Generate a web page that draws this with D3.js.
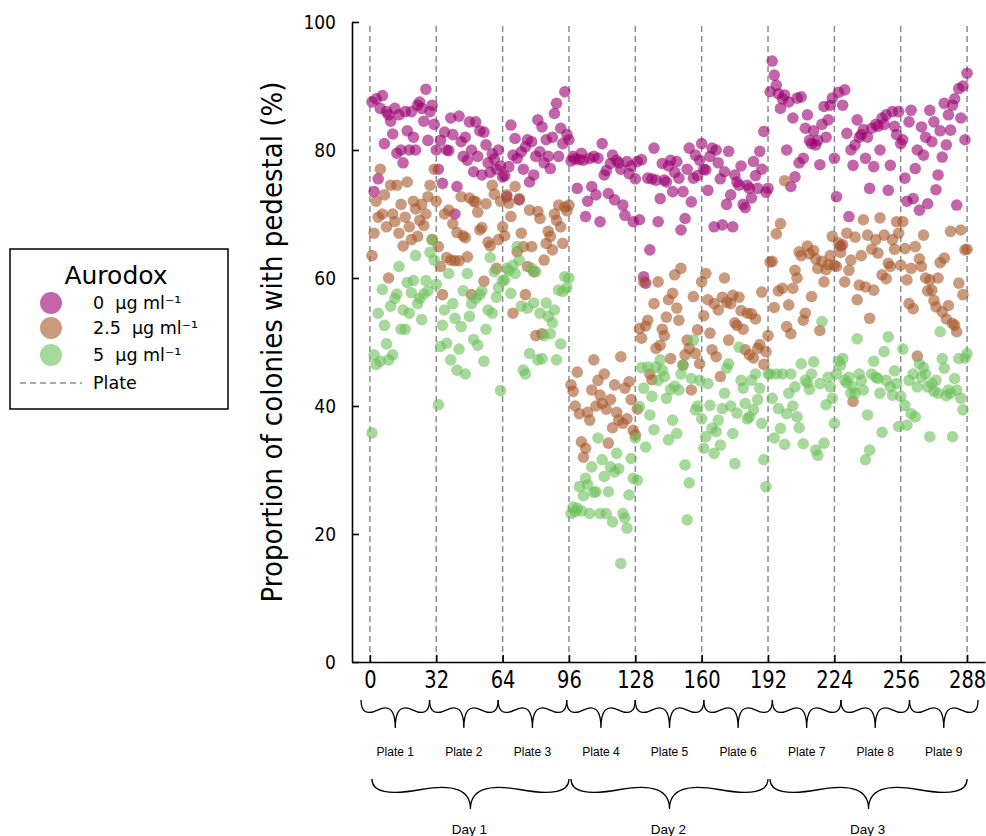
<!DOCTYPE html>
<html>
<head>
<meta charset="utf-8">
<script src="https://cdn.jsdelivr.net/npm/d3@7"></script>
<style>
  body { margin: 0; background: #fff; }
  svg { display: block; }
  text { font-family: "DejaVu Sans", sans-serif; fill: #000; }
  .note { font-family: "Liberation Sans", Arial, sans-serif; }
</style>
</head>
<body>
<div id="chart-container"></div>
<script>
// proportion of colonies with pedestal (%), one row of 32 wells per plate
const aurodox0 = [
  [87.5,73.5,88,75.5,86.5,88.5,81,86,85.5,84.5,82.5,86.5,79.5,85.5,80,78,86,83,80,86,82,80,87,87.5,86.5,84.5,89.5,81.5,86,87,84,80],
  [77,81.5,74.8,82.8,80,79.9,85,82.4,70,74.3,85.3,81.3,79,82,78.4,84.4,80,76.6,84.4,79,83,76.1,82.8,80.8,78,76.5,79.4,78.6,77,80,77.5,75.8],
  [76,72.7,77.4,83.9,79.2,81.8,78.7,72.2,79.7,77,80.5,81.6,75,81.3,76.1,79,84.7,79.7,83.6,78,81.6,79,77.1,82,85.7,87.3,79,83.4,81,89.1,82.4,81.6],
  [78.3,79,78.6,74,78.5,79.5,78.4,69.6,72,78.7,74.3,79,73,78.7,68.8,81,76.1,76.8,73.2,77.9,79.2,72.2,78.4,78,77,71.4,69.8,78.2,76.3,77.5,68.8,75.5],
  [78.2,69.1,78.5,60.2,59.2,75.6,64.4,75.5,80.3,75.3,68.8,72.4,77.9,75.3,75,77.5,78.4,73.5,76.5,78.2,75.6,67.5,73.5,69.3,77,80.3,71.9,75.6,79.2,76,78.4,81],
  [77,76.9,73.7,79,80.3,68,80,78,75.5,68.3,76.6,71.5,79.8,73,68,76.1,75,74.5,77.5,71.5,71,74.5,74,72.5,78.2,76,74,79.8,77,82.9,73.4,74],
  [89.1,93.9,91.7,90.1,88.8,86.5,88,88.6,80,87.5,74.3,85,75.8,88.1,78,88.3,78.7,83.4,85.5,81.5,81,83,80.8,81.5,77.7,84,86.8,82,84.7,87,88.1,78.7],
  [72.7,89,65,87,89.4,82.6,69.6,80,77.6,80.8,84.7,82,82.4,83.2,78.7,82,74,83.4,77.4,84,83.7,80,85,84,85.5,73.7,77.6,86,83.7,82.4,86,81],
  [81.6,75.6,72,84.4,86.2,72.4,77.1,80,70.6,83.6,79.2,82,71.6,86.2,81.3,84.4,73.8,76.1,83,78.9,87.3,80.8,85.5,83.1,87,88,71.4,89.6,85,90,81.6,92]
];
const aurodox25 = [
  [63.5,67,72,69.5,77,70,73,68,60,74.5,70,68.8,74.5,67,71.5,65,69.5,75,68,66,72,70.8,66.5,69,71.5,68.2,70,72.7,74.5,66,77,72],
  [64.9,61.8,57.4,70,63.2,70.6,62.8,68.5,62.7,67.1,62.7,72.7,66.6,66.3,63.3,72.5,57.4,72,71.9,70.3,67.5,67.9,59.5,71.6,65.6,65,74.5,73.1,61.5,66,72,68],
  [66.6,73,71.7,69.6,54.5,74.3,64.1,72.4,67,64.9,57.4,61.8,70.6,64.9,61,51,70.4,69.3,51.3,62.8,65.4,67.3,66.5,64.4,70,69,71.4,68,65.4,71.1,70.5,71.4],
  [43.3,42.3,40,45.3,38.8,34.4,32,33.4,39,37.8,42.5,47.2,40,44,41.7,40.4,45,39.5,34.2,41,36.6,43.3,39,37.8,47.7,37.3,42.8,38,43.8,41,36.2,35.5],
  [39.5,52.1,50.6,59.4,52.5,53.4,45,44.1,56,49,59.4,49.5,52,51,53.9,56.6,47.4,57.6,60.5,55.3,53.4,61.5,46.4,48,50.3,49,42.5,57.1,48.2,51.9,46.6,59.4],
  [54.1,60.7,56.6,51.4,48.8,56,47.7,55,44.6,57,60,56.2,50.3,56,57.3,53,52.6,57,54.9,52,48.8,54.5,48,54.4,47.5,53.6,49,49.6,57.8,46.5,48.5,51],
  [62.5,62.6,55.4,66.9,58,68.5,58.4,75.2,52.4,55.8,51.3,58.4,61.2,60,64.1,63.5,53.4,54.5,65,63.8,57.1,64.3,63,61.5,51.8,62.6,59.4,61.3,62.1,63.5,66.5,62],
  [61.8,65.5,64,65.2,59.4,67,61.2,62.8,40.7,66.4,56.6,58.9,63.5,69.1,58.6,66.7,53.7,64.5,58.1,66,63.9,69.4,60.5,66.7,59.9,62.3,61.8,66,64.5,68.8,67,62],
  [68.8,64.6,59.7,56,61.5,55.2,64.9,47.8,63,61.8,66.7,60,58,59.7,58.1,56.5,55.5,60,62.4,54.7,63.1,53.6,55.7,67.3,52.9,52.6,51.6,59.2,67.5,57.4,64.4,64.5]
];
const aurodox5 = [
  [35.8,48,46.5,54.5,47,58.2,52.6,49.7,47.2,55.6,48,56.8,57.5,61.8,52,55,52,59.3,54.5,57.7,59.6,63.5,56,56.8,53.5,57.5,59.6,58,64,66,62.8,59],
  [40.2,49.3,52.6,55,49.8,60.7,47.2,56,53.7,45.6,48.9,52.4,58,45,60.7,54,56,50.4,56.8,49.5,57.4,58,47,52,55,63.2,54.5,61,57,58.5,42.4,59.6],
  [59.7,61.5,61.2,57.6,62,60.7,64.9,62.8,55.6,45.6,45,55.3,48.2,61.5,56.1,61,47.2,54.5,47.4,51,56.1,54,51.3,53,55,47.2,58.1,49.7,57.9,60.2,58.5,60],
  [23.2,24.2,23.5,24,27.4,23.6,26,28.7,27.7,23.2,30.5,26.5,26.6,35,23.2,31.6,29,23.2,26.6,30.5,21.9,29.7,32.6,30.2,15.4,23.2,22.5,20.9,26.1,31.8,28.7,35],
  [28.4,39.9,46,42.8,33.6,46.1,38.6,41.5,36.3,46.1,44,47.2,45.6,44.6,41.2,34.7,42.6,37.8,43.1,35.7,42.5,45,46.4,30.8,22.2,28,44.3,50.3,39.4,40,44,38],
  [33.4,35.2,43.5,40.1,36.5,32.6,36,37.8,33.9,39.6,42,45.9,46.6,40,35.7,31,38.9,49.2,44,42.8,40.4,38,38.3,44,39.4,45,41,42.8,37.3,31.6,27.4,45],
  [45,41.2,35,45,39.6,36.5,45,34,38.8,42,45,40,43,38.3,36.6,46.6,34.1,44,43.6,42.6,45,46.9,33.1,32.3,43.5,53.2,34.2,40.2,44.5,43,41.2,37.3],
  [45,47,46.4,47.4,44,43.6,44.5,42,43,42,50.5,45,44,42.5,31.6,38.6,33.1,45,47,44.5,44.3,42,35.9,48.5,44,50.8,43,41.7,45.5,43.5,36.8,41.5],
  [48.9,40.1,37,44,38.8,45,38.3,43,46.6,44.5,46,45,43,35.2,43.5,42.3,44,42,51.6,47.4,45.9,41.6,42.5,42,35.2,44.3,42.5,47.4,41.2,39.4,47.5,48.2]
];

const wellsPerPlate = 32;
const xTicks = [0, 32, 64, 96, 128, 160, 192, 224, 256, 288];
const yTicks = [0, 20, 40, 60, 80, 100];
const plateLabels = ["Plate 1", "Plate 2", "Plate 3", "Plate 4", "Plate 5", "Plate 6", "Plate 7", "Plate 8", "Plate 9"];
const dayLabels = ["Day 1", "Day 2", "Day 3"];
const seriesLabels = ["0  \u03bcg ml\u207b\u00b9", "2.5  \u03bcg ml\u207b\u00b9", "5  \u03bcg ml\u207b\u00b9"];
const seriesColors = ["#99006f", "#a65628", "#6dbf5a"];

const width = 986, height = 836;
const svg = d3.select("#chart-container").append("svg").attr("width", width).attr("height", height);

const x = d3.scaleLinear().domain([-8.64, 296.64]).range([352, 985]);
const y = d3.scaleLinear().domain([0, 100]).range([662, 22]);

// plate separators
svg.append("g").selectAll("line").data(xTicks).enter().append("line").
attr("x1", d => x(d)).attr("x2", d => x(d)).
attr("y1", y(0)).attr("y2", y(100)).
attr("stroke", "#8c8c8c").attr("stroke-width", 1.5).attr("stroke-dasharray", "6,4");

// points, one series after another
function toPoints(rows) {
  let pts = [];
  rows.forEach((row, p) => row.forEach((v, j) => pts.push([p * wellsPerPlate + j + 1, v])));
  return pts;
}
[aurodox0, aurodox25, aurodox5].forEach((rows, i) => {
  svg.append("g").selectAll("circle").data(toPoints(rows)).enter().append("circle").
  attr("cx", d => x(d[0])).attr("cy", d => y(d[1])).attr("r", 5.8).
  attr("fill", seriesColors[i]).attr("fill-opacity", 0.6);
});

// axes; tick labels are squeezed sideways like the original figure
function squeeze(g, size, sx) {
  g.selectAll("text").each(function () {
    let t = d3.select(this);
    let tx = +t.attr("x") || 0;
    t.attr("x", 0).attr("font-family", "DejaVu Sans").attr("font-size", size).
    attr("transform", `translate(${tx},0) scale(${sx},1)`);
  });
}
const yAxis = svg.append("g").attr("transform", `translate(${x.range()[0]},0)`).
call(d3.axisLeft(y).tickValues(yTicks).tickSizeInner(-7).tickSizeOuter(0).tickPadding(16));
const xAxis = svg.append("g").attr("transform", `translate(0,${y(0)})`).
call(d3.axisBottom(x).tickValues(xTicks).tickSizeInner(-7).tickSizeOuter(0).tickPadding(8));
[yAxis, xAxis].forEach(g => g.selectAll("path, line").attr("stroke", "#000").attr("stroke-width", 1.6));
squeeze(yAxis, 19, 0.9);
squeeze(xAxis, 25, 0.78);

svg.append("text").text("Proportion of colonies with pedestal (%)").
attr("text-anchor", "middle").attr("font-size", 29).
attr("transform", `translate(282,${y(50)}) rotate(-90) scale(0.9,1)`);

// curly brace between two x positions, tip pointing down
function brace(x1, x2, yTop, w, q) {
  const len = x2 - x1, mid = x1 + len / 2;
  return `M${x1},${yTop} Q${x1},${yTop + q * w} ${x1 + 0.25 * len},${yTop + (1 - q) * w} T${mid},${yTop + w}` +
  ` M${x2},${yTop} Q${x2},${yTop + q * w} ${x2 - 0.25 * len},${yTop + (1 - q) * w} T${mid},${yTop + w}`;
}

// plate braces sit a little off the tick grid in the original
const braceFrom = -4.3, braceTo = 293.3;
const step = (braceTo - braceFrom) / plateLabels.length;
const plates = plateLabels.map((label, i) => ({ label, start: braceFrom + i * step, end: braceFrom + (i + 1) * step }));
svg.append("g").selectAll("path").data(plates).enter().append("path").
attr("d", d => brace(x(d.start), x(d.end), 700, 28, 0.65)).
attr("fill", "none").attr("stroke", "#000").attr("stroke-width", 1.3);
svg.append("g").selectAll("text").data(plates).enter().append("text").
attr("class", "note").attr("font-size", 12).attr("text-anchor", "middle").
attr("x", d => x((d.start + d.end) / 2)).attr("y", 756).text(d => d.label);

const days = dayLabels.map((label, i) => ({ label, start: i * 3 * wellsPerPlate, end: (i + 1) * 3 * wellsPerPlate }));
svg.append("g").selectAll("path").data(days).enter().append("path").
attr("d", d => brace(x(d.start) + 2, x(d.end), 779, 30, 0.65)).
attr("fill", "none").attr("stroke", "#000").attr("stroke-width", 1.3);
svg.append("g").selectAll("text").data(days).enter().append("text").
attr("class", "note").attr("font-size", 13.5).attr("text-anchor", "middle").
attr("x", d => x((d.start + d.end) / 2)).attr("y", 834).text(d => d.label);

// legend
const legend = svg.append("g");
legend.append("rect").attr("x", 10).attr("y", 249).attr("width", 218).attr("height", 160).
attr("fill", "#fff").attr("stroke", "#000").attr("stroke-width", 1.5);
legend.append("text").text("Aurodox").attr("x", 116).attr("y", 284).
attr("text-anchor", "middle").attr("font-size", 25);
const rowY = [303, 328, 355];
seriesLabels.forEach((label, i) => {
  legend.append("circle").attr("cx", 51).attr("cy", rowY[i]).attr("r", 11).
  attr("fill", seriesColors[i]).attr("fill-opacity", 0.6);
  legend.append("text").text(label).attr("x", 93).attr("y", rowY[i] + 6).
  attr("font-size", 17.5).style("white-space", "pre");
});
legend.append("line").attr("x1", 20).attr("x2", 82).attr("y1", 383).attr("y2", 383).
attr("stroke", "#8c8c8c").attr("stroke-width", 1.5).attr("stroke-dasharray", "6,4");
legend.append("text").text("Plate").attr("x", 93).attr("y", 389).attr("font-size", 17.5);
</script>
</body>
</html>
